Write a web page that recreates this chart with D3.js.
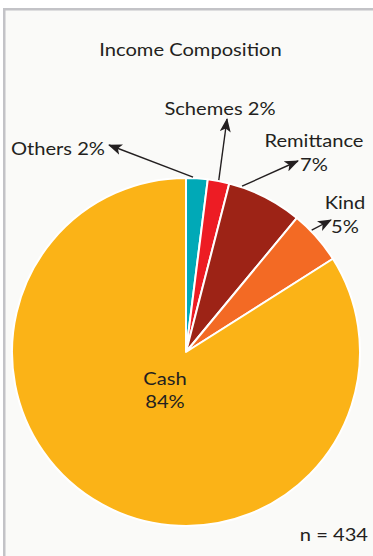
<!DOCTYPE html>
<html>
<head>
<meta charset="utf-8">
<script src="https://cdn.jsdelivr.net/npm/d3@7/dist/d3.min.js"></script>
<style>
  html, body { margin: 0; padding: 0; background: #ffffff; }
  svg { display: block; }
  text { font-family: Lato, "Open Sans", sans-serif; fill: #231f20; }
</style>
</head>
<body>
<svg id="chart" width="373" height="556"></svg>
<script>
// Income composition by source (percent of households)
const categories = ["Others", "Schemes", "Remittance", "Kind", "Cash"];
const values = [2, 2, 7, 5, 84];
const sliceColors = ["#00a9b7", "#ed1c24", "#9d2316", "#f36a24", "#fbb317"];
const sampleSize = 434;
const chartTitle = "Income Composition";

const width = 373, height = 556;
const cx = 186, cy = 352, radius = 174;
const fontSize = 17.5;
const widen = 1.15; // wide humanist face: stretch glyphs horizontally

// Callout layout for the small slices: where along the slice the arrow starts,
// where its tip lands, and where the label lines sit.
const callouts = {
  Others:     { at: 0.32, tip: [109, 145], lines: ["Others 2%"], anchor: "end",    x: 105, y: 155 },
  Schemes:    { at: 0.50, tip: [227, 119], lines: ["Schemes 2%"], anchor: "middle", x: 220, y: 115 },
  Remittance: { at: 0.17, tip: [298, 161], lines: ["Remittance", "7%"], anchor: "middle", x: 314, y: 147 },
  Kind:       { at: 0.35, tip: [331, 220], lines: ["Kind", "5%"], anchor: "middle", x: 345, y: 209 }
};

const svg = d3.select("#chart");

function label(x, y, str, anchor) {
  const t = svg.append("text")
    .attr("x", x).attr("y", y)
    .attr("text-anchor", anchor)
    .attr("font-size", fontSize)
    .text(str);
  const len = t.node().getComputedTextLength();
  t.attr("textLength", len * widen).attr("lengthAdjust", "spacingAndGlyphs");
  return t;
}

// panel with light grey frame on top and left
svg.append("rect").attr("x", 3).attr("y", 8).attr("width", width).attr("height", height)
  .attr("fill", "#c3c3c7");
svg.append("rect").attr("x", 5.5).attr("y", 10.5).attr("width", width).attr("height", height)
  .attr("fill", "#fafaf8");

label(190.5, 56, chartTitle, "middle");

const pie = d3.pie().sort(null).value(d => d.value);
const data = categories.map((c, i) => ({ name: c, value: values[i], color: sliceColors[i] }));
const arcs = pie(data);
const arc = d3.arc().innerRadius(0).outerRadius(radius);

const g = svg.append("g").attr("transform", `translate(${cx},${cy})`);
g.selectAll("path.slice")
  .data(arcs)
  .join("path")
  .attr("class", "slice")
  .attr("d", arc)
  .attr("fill", d => d.data.color)
  .attr("stroke", "#ffffff")
  .attr("stroke-width", 2)
  .attr("stroke-linejoin", "round");

// arrowhead marker (notched, filled)
svg.append("defs").append("marker")
  .attr("id", "arrow")
  .attr("viewBox", "0 0 14 11")
  .attr("refX", 13).attr("refY", 5.5)
  .attr("markerWidth", 14).attr("markerHeight", 11)
  .attr("markerUnits", "userSpaceOnUse")
  .attr("orient", "auto")
  .append("path")
  .attr("d", "M0,0 L14,5.5 L0,11 L3.5,5.5 Z")
  .attr("fill", "#231f20");

arcs.forEach(d => {
  const c = callouts[d.data.name];
  if (!c) return;
  const a = d.startAngle + (d.endAngle - d.startAngle) * c.at;
  const x0 = cx + Math.sin(a) * (radius + 1);
  const y0 = cy - Math.cos(a) * (radius + 1);
  svg.append("line")
    .attr("x1", x0).attr("y1", y0)
    .attr("x2", c.tip[0]).attr("y2", c.tip[1])
    .attr("stroke", "#231f20")
    .attr("stroke-width", 1.4)
    .attr("marker-end", "url(#arrow)");
  c.lines.forEach((ln, i) => label(c.x, c.y + i * 24, ln, c.anchor));
});

// label inside the large slice
const cash = arcs[arcs.length - 1];
label(165, 385, cash.data.name, "middle");
label(165, 408, cash.data.value + "%", "middle");

label(368, 541, "n = " + sampleSize, "end");
</script>
</body>
</html>
